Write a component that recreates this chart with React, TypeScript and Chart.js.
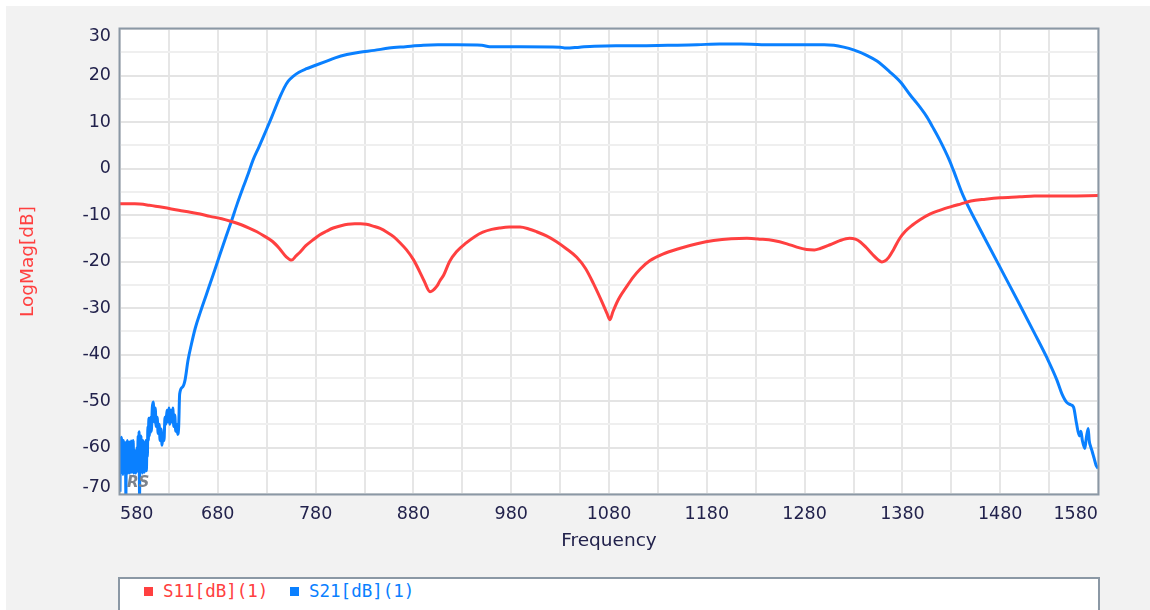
import React, { useEffect, useRef } from "react";
import { Chart, registerables } from "chart.js";

Chart.register(...registerables);

// ---------- data ----------
const xGridFreqs = [580, 630, 680, 730, 780, 830, 880, 930, 980, 1030, 1080, 1130, 1180, 1230, 1280, 1330, 1380, 1430, 1480, 1530, 1580];
const xLabelFreqs = [580, 680, 780, 880, 980, 1080, 1180, 1280, 1380, 1480, 1580];
const yTickLabels = [30, 20, 10, 0, -10, -20, -30, -40, -50, -60, -70];

const s11Freq = [
  580, 595, 610, 625, 640, 652, 662, 672, 684, 694,
  704, 712, 720, 728, 736, 743, 750, 755.5, 760, 764,
  770, 777, 784, 791, 798, 806, 813, 820, 826, 832,
  839, 846, 853, 860, 866, 873, 880, 886, 891, 897,
  900, 904, 907, 911, 917, 924, 934, 943, 951, 960,
  968, 978, 989, 998, 1006, 1016, 1026, 1036, 1047, 1056,
  1064, 1072, 1078, 1081, 1084, 1090, 1098, 1105, 1112, 1122,
  1135, 1152, 1170, 1187, 1205, 1221, 1235, 1248, 1262, 1272,
  1282, 1290, 1296, 1306, 1316, 1326, 1332, 1337, 1343, 1350,
  1355, 1359, 1362, 1366, 1371, 1377, 1383, 1390, 1398, 1408,
  1418, 1430, 1440, 1450, 1465, 1480, 1500, 1515, 1550, 1580,
];
const s11Mag = [
  -7.6, -7.6, -7.9, -8.4, -9.0, -9.4, -9.8, -10.3, -10.8, -11.4,
  -12.1, -12.8, -13.6, -14.6, -15.7, -17.2, -19.0, -19.7, -18.8, -18.0,
  -16.6, -15.4, -14.3, -13.5, -12.8, -12.3, -12.0, -11.9, -11.9, -12.0,
  -12.4, -12.9, -13.7, -14.7, -15.9, -17.5, -19.6, -22.0, -24.2, -26.5,
  -26.2, -25.3, -24.2, -22.9, -20.0, -17.9, -16.0, -14.6, -13.7, -13.1,
  -12.8, -12.6, -12.6, -13.0, -13.6, -14.5, -15.7, -17.2, -19.1, -21.5,
  -24.7, -28.3, -31.2, -32.5, -30.8, -28.0, -25.4, -23.3, -21.6, -19.8,
  -18.4, -17.2, -16.2, -15.5, -15.1, -15.0, -15.2, -15.5, -16.2, -16.9,
  -17.4, -17.5, -17.2, -16.4, -15.5, -15.0, -15.2, -15.8, -17.0, -18.6,
  -19.6, -20.1, -19.9, -19.1, -17.4, -15.1, -13.5, -12.2, -11.0, -9.8,
  -9.0, -8.2, -7.6, -7.0, -6.6, -6.3, -6.1, -5.9, -5.9, -5.8,
];

const s21Freq = [
  580, 580.5, 581, 581.5, 582, 582.5, 583, 583.5, 584, 584.5,
  585, 585.5, 586, 586.5, 587, 587.5, 588, 588.5, 589, 589.5,
  590, 590.5, 591, 591.5, 592, 592.5, 593, 593.5, 594, 594.5,
  595, 595.5, 596, 596.5, 597, 597.5, 598, 598.5, 599, 599.5,
  600, 600.5, 601, 601.5, 602, 602.5, 603, 603.5, 604, 604.5,
  605, 605.5, 606, 606.5, 607, 607.5, 608, 608.5, 609, 609.5,
  610, 610.5, 611, 611.5, 612,
  613, 614, 615, 616, 617, 618, 619, 620, 621, 622,
  623, 624, 625, 626, 627, 628, 629, 630, 631, 632,
  633, 634, 635, 636, 637, 638, 639, 640, 641,
  644, 646.5, 649.5, 653, 657, 662, 668, 675,
  682, 688, 694, 700, 706, 711, 716, 722, 727, 731,
  735, 739, 744, 748, 752, 757, 763, 770, 780, 790,
  800, 812, 825, 840, 855, 872, 890, 905, 925, 950,
  958, 990, 1030, 1036, 1050, 1065, 1087, 1110, 1140, 1170,
  1193, 1215, 1236, 1270, 1300, 1310, 1320, 1330, 1343, 1354,
  1367, 1378, 1388, 1395, 1405, 1411, 1418, 1428, 1432, 1442,
  1455, 1470, 1485, 1500, 1515, 1528, 1538, 1543, 1548, 1552,
  1555, 1558, 1561, 1562.5, 1564, 1566.5, 1568, 1570, 1571, 1572.5,
  1574, 1576, 1578, 1580,
];
const s21Mag = [
  -69.5, -58, -65.5, -57.8, -64.5, -59, -65.8, -58.5, -64, -60.5,
  -65.5, -59, -70.5, -61, -65, -58.5, -65.5, -59.5, -64, -58.8,
  -65.5, -60, -64.8, -58.6, -65.3, -59.2, -64.2, -58.5, -65.5, -60.5,
  -63.5, -61, -65.5, -62, -65.2, -60, -64.8, -57.5, -63, -56.6,
  -70.5, -58, -65, -57.5, -64.5, -59, -65.5, -58.5, -65, -60,
  -65.3, -59.5, -64.5, -58.5, -65, -60, -62, -55.5, -58.5, -53.7,
  -57.5, -54, -56.8, -53.5, -56.5,
  -51.5, -50.2, -54.5, -51.5, -55.5, -53.5, -57, -55, -58.5, -56,
  -59.5, -57, -58.5, -53.5, -55, -52, -54.5, -51.5, -55, -52,
  -54.5, -51.5, -55.5, -53, -56.5, -55, -57.2, -55.5, -48.5,
  -47, -45.5, -41.3, -37.8, -34.3, -31.0, -27.3, -23.0,
  -18.6, -14.9, -11.3, -7.5, -4.0, -1.2, 1.8, 4.6, 7.0, 9.0,
  11.0, 13.1, 15.6, 17.4, 18.8, 19.8, 20.7, 21.4, 22.2, 23.0,
  23.8, 24.5, 25.0, 25.4, 25.9, 26.2, 26.5, 26.6, 26.6, 26.5,
  26.2, 26.2, 26.1, 25.9, 26.1, 26.3, 26.4, 26.4, 26.5, 26.6,
  26.8, 26.8, 26.6, 26.6, 26.6, 26.5, 26.1, 25.5, 24.4, 23.1,
  20.8, 18.6, 15.8, 14.0, 11.1, 8.9, 6.2, 1.8, -0.3, -5.8,
  -11.3, -17.3, -23.3, -29.3, -35.4, -40.8, -45.5, -48.4, -50.3, -50.8,
  -51.3, -54.8, -57.5, -56.5, -58.5, -60.2, -58, -55.9, -58.5, -59.8,
  -60.8, -62.3, -63.8, -64.5,
];

// ---------- style ----------
const RED = "#ff4040";
const BLUE = "#0a80ff";
const TICK_COLOR = "#22224c";
const FRAME = "#8b98a5";
const FONT = '"DejaVu Sans", Verdana, sans-serif';

const framePlugin = {
  id: "framePlugin",
  beforeDraw(chart: any) {
    const { ctx, chartArea: a } = chart;
    ctx.save();
    ctx.fillStyle = "#ffffff";
    ctx.fillRect(a.left, a.top, a.right - a.left, a.bottom - a.top);
    ctx.restore();
  },
  afterDatasetsDraw(chart: any) {
    const { ctx, chartArea: a } = chart;
    ctx.save();
    ctx.font = 'italic bold 15px "DejaVu Sans"';
    ctx.fillStyle = "#7c838c";
    ctx.textAlign = "left";
    ctx.textBaseline = "alphabetic";
    ctx.fillText("RS", a.left + 7, a.bottom - 7);
    ctx.restore();
  },
  afterDraw(chart: any) {
    const { ctx, chartArea: a, scales } = chart;
    ctx.save();
    ctx.font = `17.5px ${FONT}`;
    ctx.fillStyle = TICK_COLOR;
    ctx.textAlign = "right";
    ctx.textBaseline = "middle";
    for (const v of yTickLabels) {
      let y = scales.y.getPixelForValue(v);
      y = Math.min(Math.max(y, a.top + 7), a.bottom - 7);
      ctx.fillText(String(v), a.left - 9, y);
    }
    ctx.strokeStyle = FRAME;
    ctx.lineWidth = 2;
    ctx.strokeRect(a.left - 0.5, a.top - 0.5, a.right - a.left + 1, a.bottom - a.top + 1);
    ctx.restore();
  },
};

export default function App() {
  const ref = useRef<HTMLCanvasElement | null>(null);

  useEffect(() => {
    if (!ref.current) return;
    const s11 = s11Freq.map((f, i) => ({ x: f, y: s11Mag[i] }));
    const s21 = s21Freq.map((f, i) => ({ x: f, y: s21Mag[i] }));
    const chart = new Chart(ref.current, {
      type: "line",
      data: {
        datasets: [
          {
            label: "S11[dB](1)",
            data: s11,
            borderColor: RED,
            backgroundColor: RED,
            borderWidth: 3,
            pointRadius: 0,
            cubicInterpolationMode: "monotone",
          },
          {
            label: "S21[dB](1)",
            data: s21,
            borderColor: BLUE,
            backgroundColor: BLUE,
            borderWidth: 3,
            pointRadius: 0,
            cubicInterpolationMode: "monotone",
          },
        ],
      },
      options: {
        responsive: false,
        animation: false,
        events: [],
        layout: { padding: { top: 23, right: 52, left: 0, bottom: 0 } },
        plugins: {
          legend: { display: false },
          tooltip: { enabled: false },
        },
        scales: {
          x: {
            type: "linear",
            min: 580,
            max: 1580,
            afterBuildTicks: (s: any) => {
              s.ticks = xGridFreqs.map((v) => ({ value: v }));
            },
            afterFit: (s: any) => {
              s.height = 116;
            },
            ticks: {
              autoSkip: false,
              maxRotation: 0,
              minRotation: 0,
              align: "inner",
              padding: 10,
              color: TICK_COLOR,
              font: { family: FONT, size: 17.5 },
              callback: (v: any) => (xLabelFreqs.includes(Number(v)) ? String(v) : ""),
            },
            grid: {
              drawTicks: false,
              color: "#e6e6e6",
              lineWidth: 2,
            },
            border: { display: false },
            title: {
              display: true,
              text: "Frequency",
              color: TICK_COLOR,
              font: { family: FONT, size: 18.5 },
              padding: { top: 0, bottom: 58 },
            },
          },
          y: {
            type: "linear",
            min: -70,
            max: 30,
            afterFit: (s: any) => {
              s.width = 114;
            },
            ticks: { stepSize: 5, display: false },
            grid: {
              drawTicks: false,
              lineWidth: 2,
              color: (c: any) => (c.tick && c.tick.value % 10 === 0 ? "#e4e4e4" : "#efefef"),
            },
            border: { display: false },
            title: {
              display: true,
              text: "LogMag[dB]",
              color: RED,
              font: { family: FONT, size: 18.5 },
              padding: { top: 11, bottom: 0 },
            },
          },
        },
      },
      plugins: [framePlugin],
    } as any);
    return () => chart.destroy();
  }, []);

  const legendText: React.CSSProperties = {
    position: "absolute",
    top: 2,
    fontFamily: '"DejaVu Sans Mono", monospace',
    fontSize: "17.5px",
    lineHeight: "20px",
    whiteSpace: "nowrap",
  };

  return (
    <div style={{ position: "absolute", left: 0, top: 0, width: 1150, height: 610, background: "#ffffff", overflow: "hidden" }}>
      <div style={{ position: "absolute", left: 6, top: 6, width: 1144, height: 604, background: "#f2f2f2" }}>
        <canvas ref={ref} width={1144} height={604} style={{ position: "absolute", left: 0, top: 0, width: 1144, height: 604 }} />
        <div
          style={{
            position: "absolute",
            left: 112,
            top: 571,
            width: 982,
            height: 60,
            boxSizing: "border-box",
            border: `2px solid ${FRAME}`,
            background: "#ffffff",
          }}
        >
          <div style={{ position: "absolute", left: 24, top: 8, width: 9, height: 9, background: RED }} />
          <div style={{ ...legendText, left: 43, color: RED }}>S11[dB](1)</div>
          <div style={{ position: "absolute", left: 170, top: 8, width: 9, height: 9, background: BLUE }} />
          <div style={{ ...legendText, left: 189, color: BLUE }}>S21[dB](1)</div>
        </div>
      </div>
    </div>
  );
}
